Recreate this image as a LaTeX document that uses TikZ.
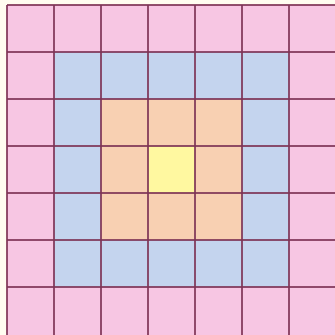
\documentclass[tikz,border=0pt]{standalone}
\definecolor{bgc}{HTML}{FFFDF0}
\definecolor{pinkc}{HTML}{F7C6E3}
\definecolor{bluec}{HTML}{C4D4EE}
\definecolor{orangec}{HTML}{F8D0B2}
\definecolor{yellowc}{HTML}{FFF8A0}
\definecolor{linec}{HTML}{7E3456}
\tikzset{gridline/.style={draw=linec,line width=1.2pt,opacity=0.85}}
\begin{document}
\begin{tikzpicture}[x=1pt,y=-1pt]
\useasboundingbox (0,0) rectangle (335,335);
\fill[bgc] (0,0) rectangle (335,335);
\begin{scope}
\clip (0,0) rectangle (335,335);
\fill[pinkc] (7,5) rectangle (340,340);
\fill[bluec] (54,52) rectangle (289,287);
\fill[orangec] (101,99) rectangle (242,240);
\fill[yellowc] (148,146) rectangle (195,193);
\foreach \i in {0,...,6} {
  \draw[gridline] ({7+47*\i},5) -- ({7+47*\i},340);
  \draw[gridline] (7,{5+47*\i}) -- (340,{5+47*\i});
}
\end{scope}
\end{tikzpicture}
\end{document}
